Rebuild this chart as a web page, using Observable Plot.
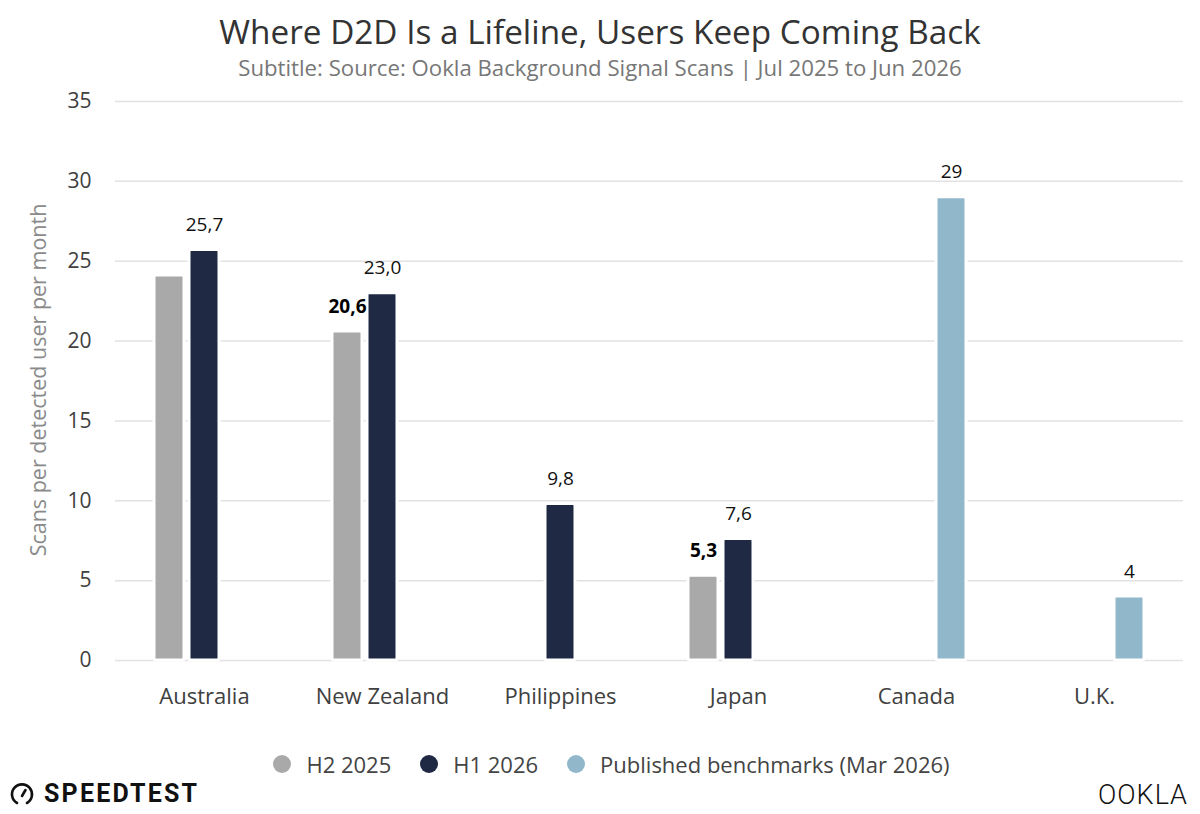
<!DOCTYPE html>
<html><head><meta charset="utf-8">
<script src="https://cdn.jsdelivr.net/npm/d3@7"></script>
<script src="https://cdn.jsdelivr.net/npm/@observablehq/plot@0.6"></script>
<style>
body{margin:0;background:#fff;font-family:"Open Sans",sans-serif;}
#wrap{position:relative;width:1200px;height:814px;overflow:hidden;background:#fff;}
#title{position:absolute;top:9px;left:0;width:1200px;text-align:center;font-size:33.3px;color:#333;line-height:44px;}
#subtitle{position:absolute;top:53px;left:0;width:1200px;text-align:center;font-size:22.2px;color:#777;line-height:30px;}
#chart{position:absolute;top:80px;left:0;}
#ylabel{position:absolute;left:37px;top:380px;transform:translate(-50%,-50%) rotate(-90deg);white-space:nowrap;font-size:21.5px;color:#8a8a8a;}
#legend{position:absolute;top:748px;left:23px;width:1177px;display:flex;justify-content:center;align-items:center;font-size:22px;color:#444;line-height:32px;}
.item{display:flex;align-items:center;margin:0 14.5px;}
.dot{width:18px;height:18px;border-radius:50%;margin-right:15px;}
#speedtest{position:absolute;left:9px;top:779px;display:flex;align-items:center;font-family:Roboto,sans-serif;font-weight:700;font-size:25px;color:#111;letter-spacing:2.2px;}
#ookla{position:absolute;right:12px;top:779px;font-family:Roboto,sans-serif;font-weight:300;font-size:27px;color:#111;letter-spacing:1px;}
</style></head>
<body><div id="wrap">
<div id="title"></div>
<div id="subtitle"></div>
<div id="chart"></div>
<div id="ylabel"></div>
<div id="legend"></div>
<div id="speedtest"><svg width="26" height="26" viewBox="0 0 26 26" style="margin-right:9px"><path d="M8 22 A10 10 0 1 1 18 22" fill="none" stroke="#111" stroke-width="2.6" stroke-linecap="round"/><line x1="13" y1="15" x2="16.5" y2="9" stroke="#111" stroke-width="2.6" stroke-linecap="round"/></svg>SPEEDTEST</div>
<div id="ookla">OOKLA</div>
</div>
<script>
const titleText = "Where D2D Is a Lifeline, Users Keep Coming Back";
const subtitleText = "Subtitle: Source: Ookla Background Signal Scans | Jul 2025 to Jun 2026";
const yLabel = "Scans per detected user per month";
const countries = ["Australia", "New Zealand", "Philippines", "Japan", "Canada", "U.K."];
const seriesNames = ["H2 2025", "H1 2026", "Published benchmarks (Mar 2026)"];
const seriesColors = ["#a9a9a9", "#1f2944", "#91b8ca"];
const h2_2025 = [24.1, 20.6, null, 5.3, null, null];
const h1_2026 = [25.7, 23.0, 9.8, 7.6, null, null];
const benchmarks = [null, null, null, null, 29, 4];
const h2Labels = [null, "20,6", null, "5,3", null, null];
const h1Labels = ["25,7", "23,0", "9,8", "7,6", null, null];
const benchLabels = [null, null, null, null, "29", "4"];
const yTicks = [0, 5, 10, 15, 20, 25, 30, 35];

document.getElementById("title").textContent = titleText;
document.getElementById("subtitle").textContent = subtitleText;
document.getElementById("ylabel").textContent = yLabel;

const rows = [];
const seriesValues = [h2_2025, h1_2026, benchmarks];
const seriesLabels = [h2Labels, h1Labels, benchLabels];
countries.forEach((c, i) => {
  seriesNames.forEach((s, j) => {
    const v = seriesValues[j][i];
    if (v != null) rows.push({country: c, series: s, value: v, label: seriesLabels[j][i], bold: j === 0});
  });
});

const chart = Plot.plot({
  width: 1200, height: 650,
  marginLeft: 114, marginRight: 17, marginTop: 21, marginBottom: 70,
  style: {fontFamily: "'Open Sans', sans-serif", color: "#404040", background: "transparent"},
  fx: {domain: countries, padding: 0, label: null},
  x: {domain: seriesNames, paddingInner: 0.157, paddingOuter: 1.079, axis: null},
  y: {domain: [0, 35], label: null},
  color: {domain: seriesNames, range: seriesColors},
  marks: [
    Plot.gridY(yTicks, {stroke: "#e2e2e2", strokeOpacity: 1, strokeWidth: 1.5}),
    Plot.axisY(yTicks, {tickSize: 0, tickPadding: 24, fontSize: 21, label: null}),
    Plot.axisFx({anchor: "bottom", tickSize: 0, tickPadding: 28, fontSize: 22, label: null}),
    Plot.barY(rows, {fx: "country", x: "series", y: "value", fill: "series", stroke: "white", strokeWidth: 3, rx: 2}),
    Plot.text(rows.filter(d => d.label && !d.bold), {fx: "country", x: "series", y: "value", text: "label", dy: -25, fontSize: 19, fill: "#111"}),
    Plot.text(rows.filter(d => d.label && d.bold), {fx: "country", x: "series", y: "value", text: "label", dy: -25, fontSize: 19, fontWeight: "bold", fill: "#000"})
  ]
});
document.getElementById("chart").appendChild(chart);

const legend = document.getElementById("legend");
seriesNames.forEach((s, j) => {
  const it = document.createElement("div"); it.className = "item";
  const d = document.createElement("div"); d.className = "dot"; d.style.background = seriesColors[j];
  const t = document.createElement("span"); t.textContent = s;
  it.appendChild(d); it.appendChild(t); legend.appendChild(it);
});
</script>
</body></html>
